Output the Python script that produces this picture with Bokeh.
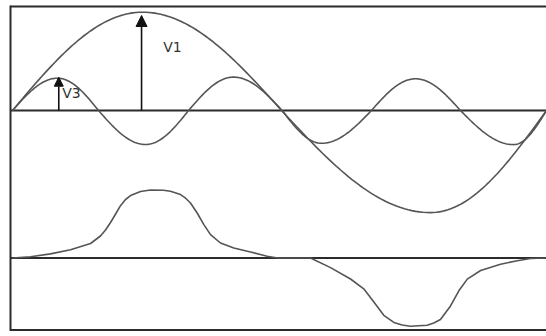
import numpy as np
from bokeh.plotting import figure
from bokeh.models import Range1d, Arrow, NormalHead, Label
from bokeh.embed import file_html
from bokeh.resources import INLINE

# ---- data (angle in electrical degrees, height in drawing units) ----
# fundamental V1: zero / peak / zero / trough / zero
v1_deg = [0, 87.6, 181.4, 281.8, 360]
v1_val = [0, 98.3, 0, -102.1, 0]

# third harmonic V3: zero / extreme alternating
v3_deg = [0, 30.3, 58.0, 89.7, 118.7, 149.0, 181.8, 208.3, 242.0, 271.7, 302.0, 337.8, 360]
v3_val = [0, 32.3, 0, -34.0, 0, 33.4, 0, -32.8, 0, 31.7, 0, -34.1, 0]

# resulting peaked wave (lower trace), sampled along the curve
wave_deg = [0, 12.1, 25.6, 39.1, 52.6, 59.3, 62.7, 66.1, 69.5, 72.8, 76.2, 79.6, 86.3, 93.0,
            101.8, 106.5, 113.3, 116.7, 120.0, 124.5, 129.0, 133.5, 140.2, 149.2, 160.5,
            171.7, 178.7,
            200.9, 214.4, 227.9, 236.8, 243.6, 250.3, 257.1, 262.7, 268.3, 279.6, 284.0,
            288.5, 295.3, 300.9, 306.6, 315.6, 329.0, 340.3, 349.2, 360]
wave_val = [0, 1.2, 4.1, 8.3, 14.5, 22.0, 28.0, 35.5, 44.0, 52.3, 58.5, 62.4, 66.5, 68.0,
            67.8, 66.7, 63.4, 59.8, 55.0, 45.0, 33.4, 23.4, 15.0, 10.0, 6.0,
            1.7, 0,
            0, -9.6, -21.0, -30.8, -44.0, -57.3, -64.4, -67.0, -68.2, -67.3, -65.0,
            -61.5, -47.9, -32.8, -21.1, -12.5, -6.2, -2.7, -0.5, 0]

arrow_names = ["V1", "V3"]
arrow_deg = [87.0, 31.2]
arrow_tip = [95.0, 33.3]

# ---- layout constants ----
LOWER_BASE = -147.5
X0, X1 = -8.09, 360.0
Y0, Y1 = -226.0, 110.0
BOX_L, BOX_R, BOX_T, BOX_B = -1.35, 362.0, 104.0, -219.5


def quarter_waves(keys_x, keys_y, n=40):
    xs, ys = [], []
    for i in range(len(keys_x) - 1):
        x0, y0 = keys_x[i], keys_y[i]
        x1, y1 = keys_x[i + 1], keys_y[i + 1]
        t = np.linspace(0, 1, n, endpoint=False)
        if abs(y1) >= abs(y0):
            y = y1 * np.sin(np.pi / 2 * t)
        else:
            y = y0 * np.cos(np.pi / 2 * t)
        xs.extend(x0 + (x1 - x0) * t)
        ys.extend(y)
    xs.append(keys_x[-1])
    ys.append(keys_y[-1])
    return xs, ys


p = figure(width=546, height=336, output_backend="svg", toolbar_location=None,
           x_range=Range1d(X0, X1), y_range=Range1d(Y0, Y1),
           x_axis_location=None, y_axis_location=None, min_border=0,
           outline_line_color=None, background_fill_color="white",
           border_fill_color="white")
p.xgrid.visible = False
p.ygrid.visible = False

CURVE = "#555555"
LINE = "#2b2b2b"

# box (left, top, bottom) and the two base lines
p.segment(x0=[BOX_L, BOX_L, BOX_L, BOX_L, BOX_L],
          y0=[BOX_B - 1, BOX_T, BOX_B, 0, LOWER_BASE],
          x1=[BOX_L, BOX_R, BOX_R, BOX_R, BOX_R],
          y1=[BOX_T + 1, BOX_T, BOX_B, 0, LOWER_BASE],
          line_color=LINE, line_width=2)

x1, y1 = quarter_waves(v1_deg, v1_val)
p.line(x1, y1, line_color=CURVE, line_width=1.6)
x3, y3 = quarter_waves(v3_deg, v3_val)
p.line(x3, y3, line_color=CURVE, line_width=1.6)

wy = [v + LOWER_BASE for v in wave_val]
p.line(wave_deg, wy, line_color=CURVE, line_width=1.6, line_join="round")

sizes = [11, 9]
for name, xd, tip, sz in zip(arrow_names, arrow_deg, arrow_tip, sizes):
    p.add_layout(Arrow(end=NormalHead(size=sz, fill_color="#111111", line_color="#111111"),
                       x_start=xd, y_start=0, x_end=xd, y_end=tip,
                       line_color="#111111", line_width=1.6))

p.add_layout(Label(x=101.6, y=56.0, text=arrow_names[0], text_font="DejaVu Sans",
                   text_font_size="14px", text_color="#333333"))
p.add_layout(Label(x=33.5, y=9.3, text=arrow_names[1], text_font="DejaVu Sans",
                   text_font_size="14px", text_color="#333333"))

open("out.html", "w").write(file_html(p, INLINE))
